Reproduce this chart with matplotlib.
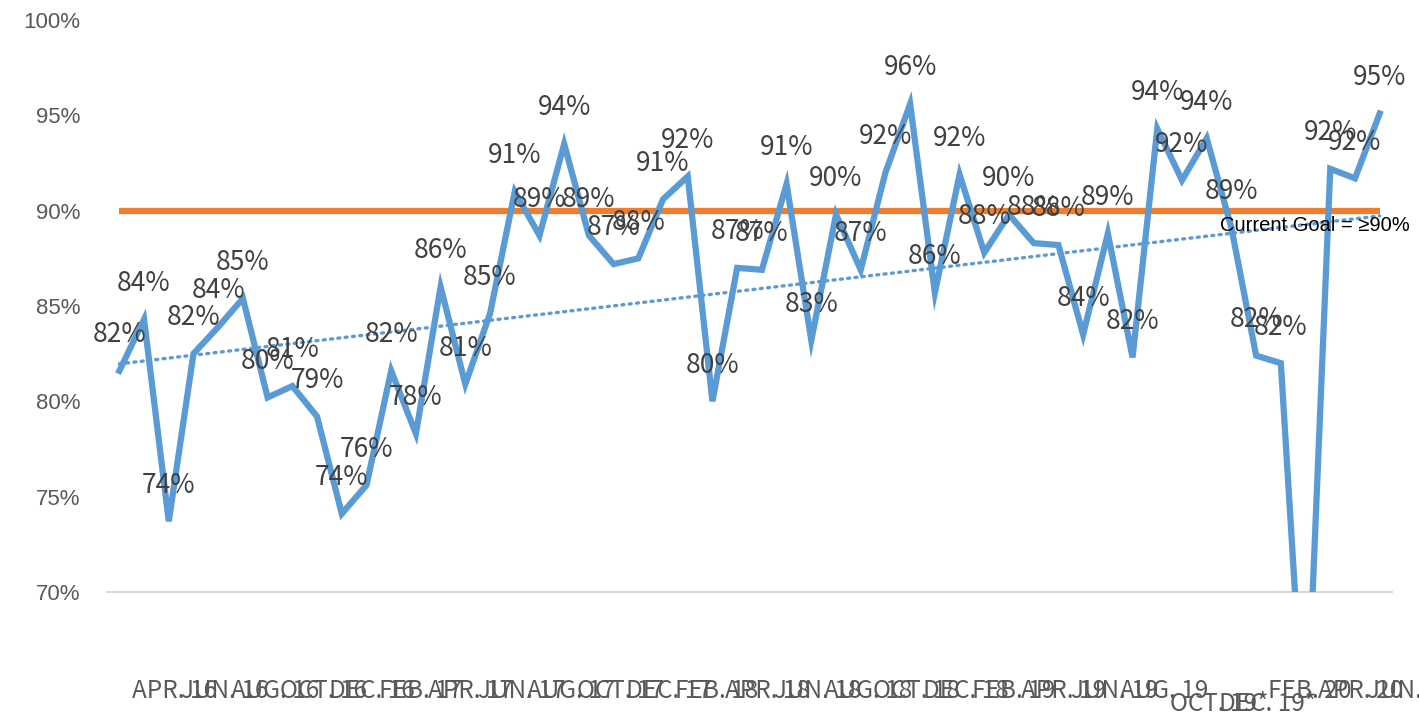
import numpy as np
import matplotlib
matplotlib.use("Agg")
import matplotlib.pyplot as plt
from matplotlib.transforms import ScaledTranslation

# monthly compliance, Apr 2016 .. Jul 2020 (52 months)
values = [81.6, 84.3, 73.7, 82.5, 83.9, 85.4, 80.2, 80.8, 79.2, 74.1,
          75.6, 81.6, 78.3, 86.0, 80.9, 84.6, 91.0, 88.7, 93.5, 88.7,
          87.2, 87.5, 90.6, 91.8, 80.0, 87.0, 86.9, 91.4, 83.2, 89.8,
          86.9, 92.0, 95.6, 85.7, 91.9, 87.8, 89.8, 88.3, 88.2, 83.5,
          88.8, 82.3, 94.3, 91.6, 93.8, 89.1, 82.4, 82.0, 61.0, 92.2,
          91.7, 95.1]
goal = 90.0
goal_text = "Current Goal = \u226590%"

# every second month gets a label
month_labels = ["APR. 16", "JUN. 16", "AUG. 16", "OCT. 16", "DEC. 16",
                "FEB. 17", "APR. 17", "JUN. 17", "AUG. 17", "OCT. 17", "DEC. 17",
                "FEB. 18", "APR. 18", "JUN. 18", "AUG. 18", "OCT. 18", "DEC. 18",
                "FEB. 19", "APR. 19", "JUN. 19", "AUG. 19", "OCT. 19*", "DEC. 19*",
                "FEB. 20", "APR. 20", "JUN. 20"]
y_ticks = [70, 75, 80, 85, 90, 95, 100]

blue = "#5B9BD5"
orange = "#ED7D31"
label_font = ["Noto Sans CJK JP", "DejaVu Sans"]

x = np.arange(len(values))
vals = np.array(values)

fig = plt.figure(figsize=(14.19, 7.2), dpi=100)
ax = fig.add_axes([0.0754, 0.178, 0.9056, 0.794])

ax.plot(x, np.full(len(x), goal), color=orange, linewidth=4.5, solid_capstyle="butt", zorder=2)
ax.plot(x, vals, color=blue, linewidth=4.5, solid_joinstyle="miter", zorder=3)

# linear trendline
k, b = np.polyfit(x, vals, 1)
ax.plot(x, k * x + b, color=blue, linewidth=2.4, linestyle=(0, (0.6, 1.6)),
        dash_capstyle="round", zorder=2.5)

for xi, v in zip(x, vals):
    ax.annotate("%d%%" % round(v), (xi, v), xytext=(0, 26), textcoords="offset points",
                ha="center", va="center", fontsize=19, color="#404040",
                family=label_font, zorder=5)

ax.text(len(x) + 0.22, goal - 0.75, goal_text, ha="right", va="center", fontsize=14.5,
        color="black", family=["Liberation Sans", "DejaVu Sans"], clip_on=False, zorder=6)

ax.set_xlim(-0.5, len(x) - 0.5)
ax.set_ylim(70, 100)
ax.set_yticks(y_ticks)
ax.set_yticklabels(["%d%%" % t for t in y_ticks], family=["Liberation Sans", "DejaVu Sans"],
                   fontsize=16, color="#595959")
ax.set_xticks(np.arange(0, len(x), 2) + 0.5)
ax.set_xticklabels(month_labels, ha="left", family=label_font, fontsize=17.5, color="#595959")
ax.tick_params(axis="both", length=0)
ax.tick_params(axis="y", pad=19)
ax.tick_params(axis="x", pad=62)

# the two starred labels sit a bit lower
for lbl in ax.get_xticklabels():
    if lbl.get_text().endswith("*"):
        lbl.set_transform(lbl.get_transform() + ScaledTranslation(0, -0.13, fig.dpi_scale_trans))

for side in ["top", "right", "left"]:
    ax.spines[side].set_visible(False)
ax.spines["bottom"].set_color("#D9D9D9")
ax.spines["bottom"].set_linewidth(1.5)

fig.savefig("out.png", dpi=100)
